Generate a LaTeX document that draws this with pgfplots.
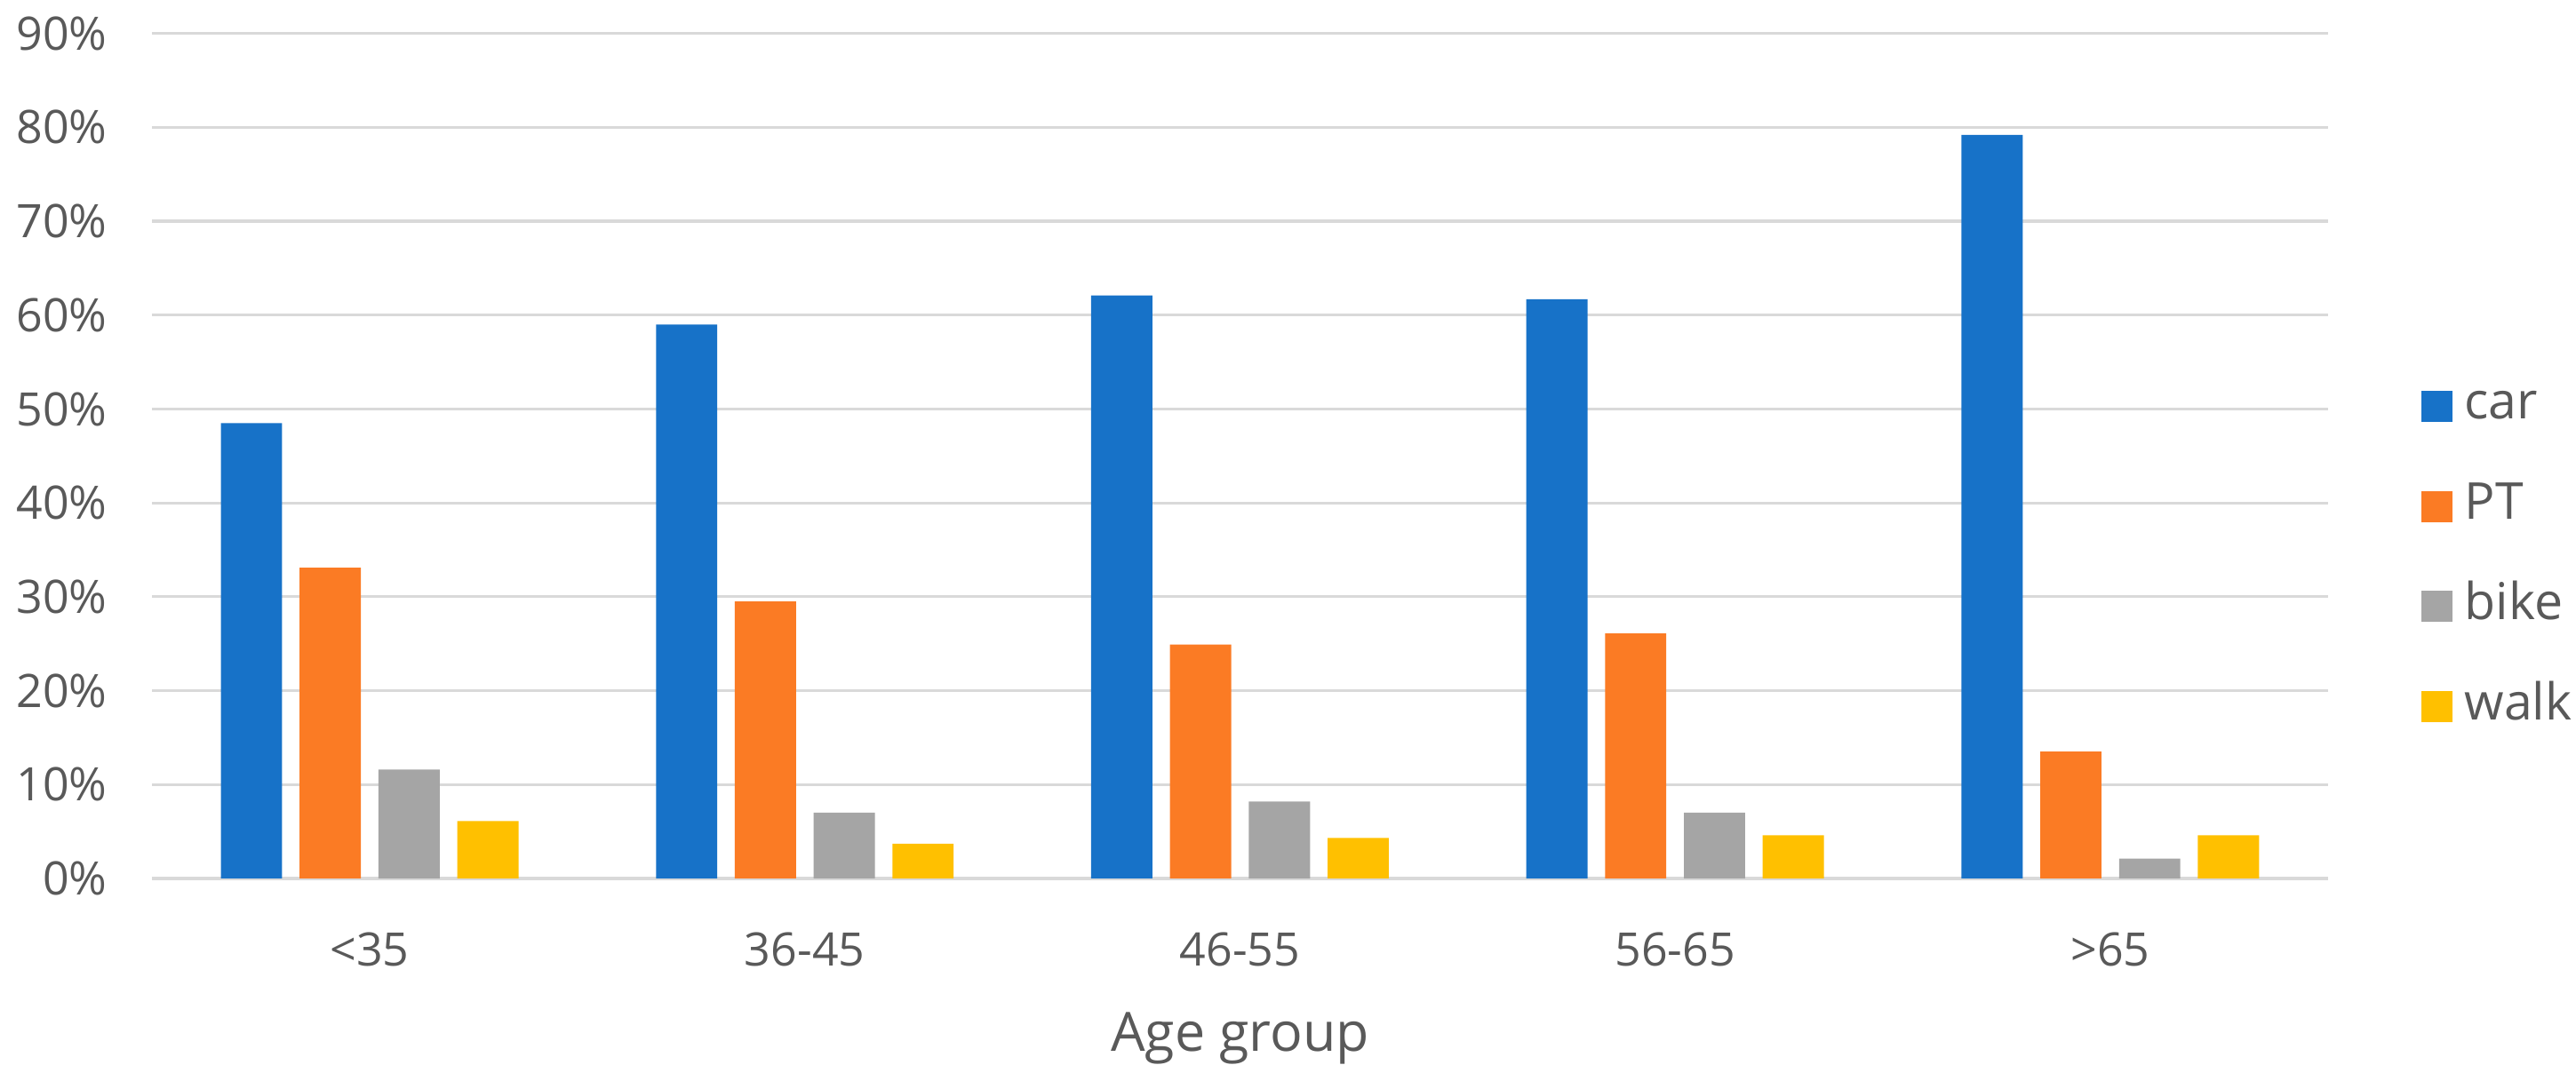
\documentclass[border=0pt]{standalone}
\usepackage{pgfplots}
\pgfplotsset{compat=1.18}
\usepackage{fontspec}
\setmainfont{Open Sans}

\definecolor{carc}{HTML}{1772C8}
\definecolor{ptc}{HTML}{FB7B24}
\definecolor{bikec}{HTML}{A5A5A5}
\definecolor{walkc}{HTML}{FFC000}
\definecolor{gridc}{HTML}{D9D9D9}
\definecolor{txt}{HTML}{595959}

\begin{document}
\begin{tikzpicture}
  \path[use as bounding box] (0,0) rectangle (547pt,229.6pt);
  \begin{axis}[
    at={(32.3pt,43pt)}, anchor=south west,
    width=462pt, height=179.5pt, scale only axis,
    xmin=-0.5, xmax=4.5,
    ymin=0, ymax=90,
    xtick={0,1,2,3,4},
    xticklabels={<35,36-45,46-55,56-65,>65},
    ytick={0,10,...,90},
    yticklabel={\pgfmathprintnumber{\tick}\%},
    /pgf/number format/assume math mode=true,
    axis line style={draw=none},
    major tick length=0pt,
    ymajorgrids,
    grid style={gridc, line width=0.6pt},
    tick label style={font=\fontsize{9.8}{11}\selectfont, text=txt},
    yticklabel style={xshift=-6pt},
    xticklabel style={yshift=-8pt},
    xlabel={Age group},
    xlabel style={at={(axis description cs:0.5,0)}, anchor=center,
      yshift=-34pt, font=\fontsize{11.5}{13}\selectfont, text=txt},
    legend style={at={(1.0425,0.381)}, anchor=west, draw=none, fill=none,
      inner sep=0pt, row sep=10.8pt, column sep=2.6pt,
      font=\fontsize{10.8}{12}\selectfont, text=txt,
      nodes={text height=8pt, text depth=2.5pt, inner sep=0pt}},
    legend cell align=left,
    legend image code/.code={\path[#1, draw=none] (0pt,-3.3pt) rectangle (6.6pt,3.3pt);},
  ]
    % car
    \addplot[ybar, bar width=13pt, bar shift=-25.1pt, fill=carc, draw=none]
      coordinates {(0,48.5) (1,59.0) (2,62.1) (3,61.7) (4,79.2)};
    % PT
    \addplot[ybar, bar width=13pt, bar shift=-8.37pt, fill=ptc, draw=none]
      coordinates {(0,33.1) (1,29.5) (2,24.9) (3,26.1) (4,13.5)};
    % bike
    \addplot[ybar, bar width=13pt, bar shift=8.37pt, fill=bikec, draw=none]
      coordinates {(0,11.6) (1,7.0) (2,8.2) (3,7.0) (4,2.1)};
    % walk
    \addplot[ybar, bar width=13pt, bar shift=25.1pt, fill=walkc, draw=none]
      coordinates {(0,6.1) (1,3.7) (2,4.3) (3,4.6) (4,4.6)};
    \legend{car,PT,bike,walk}
  \end{axis}
\end{tikzpicture}
\end{document}
